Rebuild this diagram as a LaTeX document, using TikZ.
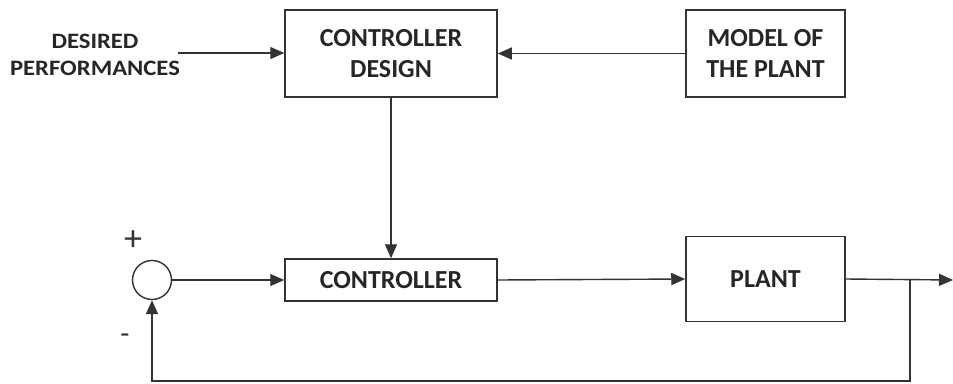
\documentclass[tikz,border=0pt]{standalone}
\usepackage{fontspec}
\setmainfont{Carlito}
\newfontfamily\dfont{Carlito}[FakeStretch=1.12]
\usetikzlibrary{arrows.meta}
\begin{document}
\begin{tikzpicture}[x=1pt,y=-1pt,
  box/.style={draw=black!80,line width=1.5pt,rectangle,inner sep=0pt},
  lbl/.style={font=\dfont\fontsize{22}{27}\selectfont\bfseries,text=black!85,align=center},
  blbl/.style={font=\fontsize{26}{31}\selectfont\bfseries,text=black!85,align=center},
  conn/.style={draw=black!80,line width=1.4pt},
  arr/.style={conn,-{Triangle[length=14pt,width=12pt]}}]
\useasboundingbox (0,0) rectangle (953,383);
\node[box,minimum width=212pt,minimum height=87pt] (cd) at (391,53.5) {};
\node[blbl] at (cd) {CONTROLLER\\DESIGN};
\node[box,minimum width=159pt,minimum height=87pt] (mp) at (765.5,53.5) {};
\node[blbl] at (mp) {MODEL OF\\THE PLANT};
\node[lbl] (dp) at (95,55) {DESIRED\\PERFORMANCES};
\node[box,minimum width=212pt,minimum height=42pt] (ct) at (391,280) {};
\node[blbl] at (ct) {CONTROLLER};
\node[box,minimum width=159pt,minimum height=85pt] (pl) at (765.5,279) {};
\node[blbl] at (pl) {PLANT};
\node[draw=black!80,line width=1.4pt,circle,minimum size=39pt,inner sep=0pt] (sum) at (152,280) {};
\node[font=\fontsize{36}{36}\selectfont,text=black!80] (plus) at (133,241) {+};
\node[font=\fontsize{30}{30}\selectfont,text=black!80] (minus) at (125,339) {-};
\coordinate (dpe) at (178,53);
\coordinate (br) at (910,280);
\coordinate (out) at (953,280);
\coordinate (bl) at (910,381);
\coordinate (bll) at (152,381);
\draw[arr] (dpe) -- (cd.west |- dpe);
\draw[arr] (mp.west) -- (cd.east);
\draw[arr] (cd.south) -- (ct.north);
\draw[arr] (sum.east) -- (ct.west);
\draw[arr] (ct.east) -- (pl.west);
\draw[arr] (pl.east) -- (out);
\draw[arr] (br) -- (bl) -- (bll) -- (sum.south);
\end{tikzpicture}
\end{document}
